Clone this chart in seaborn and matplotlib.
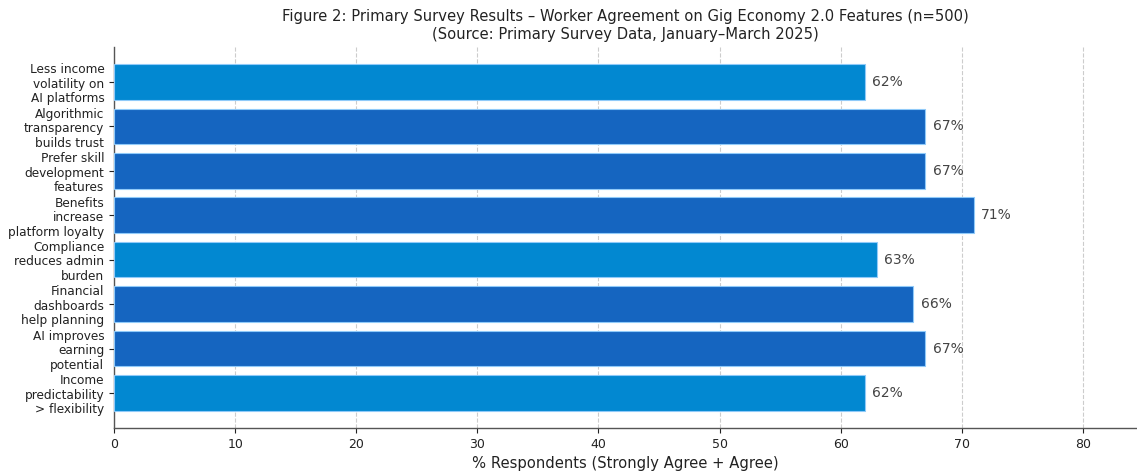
import matplotlib
matplotlib.use("Agg")
import matplotlib.pyplot as plt
import pandas as pd
import seaborn as sns

FEATURES = [
    "Less income\nvolatility on\nAI platforms",
    "Algorithmic\ntransparency\nbuilds trust",
    "Prefer skill\ndevelopment\nfeatures",
    "Benefits\nincrease\nplatform loyalty",
    "Compliance\nreduces admin\nburden",
    "Financial\ndashboards\nhelp planning",
    "AI improves\nearning\npotential",
    "Income\npredictability\n> flexibility",
]
AGREE_PCT = [62, 67, 67, 71, 63, 66, 67, 62]

LIGHT = "#0288d1"
DARK = "#1565c0"

df = pd.DataFrame({"feature": FEATURES, "pct": AGREE_PCT})
palette = {f: (DARK if v >= 65 else LIGHT) for f, v in zip(FEATURES, AGREE_PCT)}

sns.set_style("white")
plt.rcParams["font.family"] = ["DejaVu Sans"]

fig = plt.figure(figsize=(11.37, 4.74), dpi=100)
ax = fig.add_axes([0.1003, 0.097, 0.9, 0.804])

sns.barplot(
    data=df, y="feature", x="pct", hue="feature", palette=palette,
    orient="h", width=0.8, saturation=1, edgecolor="#90caf9", linewidth=0.8,
    legend=False, ax=ax, zorder=3,
)

for patch, v in zip(ax.patches, AGREE_PCT):
    ax.text(patch.get_width() + 0.6, patch.get_y() + patch.get_height() / 2,
            f"{v}%", va="center", ha="left", fontsize=10, color="#444444")

ax.set_xlim(0, 84.5)
ax.set_ylim(len(FEATURES) - 1 + 0.79, -0.79)
ax.set_xticks(range(0, 90, 10))
ax.grid(axis="x", linestyle="--", color="#cccccc", linewidth=0.8, zorder=0)
ax.set_axisbelow(True)
for s in ["top", "right"]:
    ax.spines[s].set_visible(False)
for s in ["left", "bottom"]:
    ax.spines[s].set_color("#555555")
    ax.spines[s].set_linewidth(1.0)

ax.tick_params(axis="both", colors="#222222", length=3.5, left=True, bottom=True)
ax.tick_params(axis="x", labelsize=9)
ax.tick_params(axis="y", labelsize=8.7)
for lab in ax.get_yticklabels():
    lab.set_linespacing(1.15)
ax.set_ylabel("")
ax.set_xlabel("% Respondents (Strongly Agree + Agree)", fontsize=10.6, color="#222222")
ax.set_title("Figure 2: Primary Survey Results \u2013 Worker Agreement on Gig Economy 2.0 Features (n=500)\n"
             "(Source: Primary Survey Data, January\u2013March 2025)", fontsize=10.6, color="#222222")

fig.savefig("out.png", dpi=100)
